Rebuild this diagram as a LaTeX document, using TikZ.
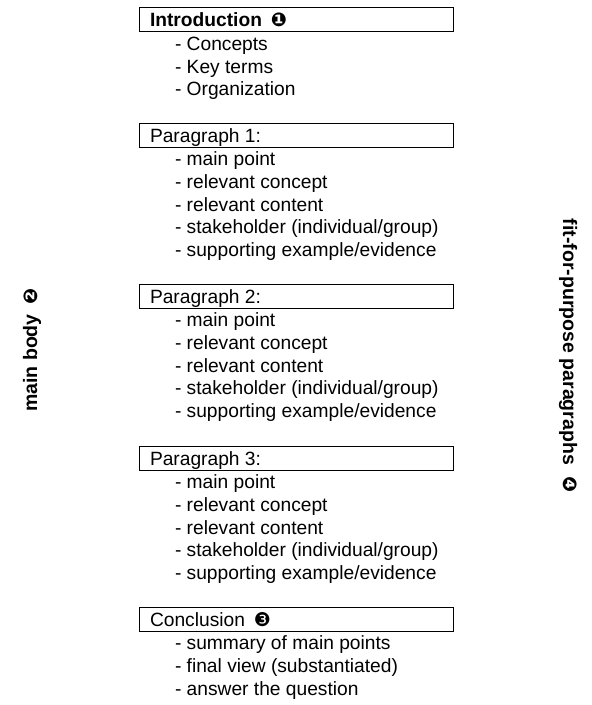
\documentclass[tikz,border=0pt]{standalone}
\usepackage{fontspec}
\setmainfont{Liberation Sans}
\newfontfamily\dejavu{DejaVu Sans}
\newcommand{\circnum}[1]{{\dejavu\fontsize{19}{19}\selectfont #1}}
\begin{document}
\begin{tikzpicture}[x=1pt,y=-1pt,
  every node/.style={inner sep=0pt, outer sep=0pt},
  txt/.style={font=\fontsize{19.2}{22}\selectfont, anchor=base west},
  hdrbox/.style={draw=black, line width=0.9pt},
  side/.style={font=\bfseries\fontsize{19.5}{22}\selectfont}]
\useasboundingbox (0,0) rectangle (592,705);
% Intro
\draw[hdrbox] (139,7) rectangle (453,31);
\node[txt] (intro) at (150,26.5) {\bfseries Introduction\hspace{9pt}\circnum{❶}};
\node[txt] (intro1) at (175,50.5) {- Concepts};
\node[txt] (intro2) at (175,73.2) {- Key terms};
\node[txt] (intro3) at (175,95.9) {- Organization};
% Paragraph 1
\draw[hdrbox] (139,123) rectangle (453,147);
\node[txt] (p1) at (150,142.5) {Paragraph 1:};
\node[txt] (p1a) at (175,165.7) {- main point};
\node[txt] (p1b) at (175,188.4) {- relevant concept};
\node[txt] (p1c) at (175,211.1) {- relevant content};
\node[txt] (p1d) at (175,233.8) {- stakeholder (individual/group)};
\node[txt] (p1e) at (175,256.5) {- supporting example/evidence};
% Paragraph 2
\draw[hdrbox] (139,284) rectangle (453,308);
\node[txt] (p2) at (150,303.5) {Paragraph 2:};
\node[txt] (p2a) at (175,326.7) {- main point};
\node[txt] (p2b) at (175,349.4) {- relevant concept};
\node[txt] (p2c) at (175,372.1) {- relevant content};
\node[txt] (p2d) at (175,394.8) {- stakeholder (individual/group)};
\node[txt] (p2e) at (175,417.5) {- supporting example/evidence};
% Paragraph 3
\draw[hdrbox] (139,446) rectangle (453,470);
\node[txt] (p3) at (150,465.5) {Paragraph 3:};
\node[txt] (p3a) at (175,488.7) {- main point};
\node[txt] (p3b) at (175,511.4) {- relevant concept};
\node[txt] (p3c) at (175,534.1) {- relevant content};
\node[txt] (p3d) at (175,556.8) {- stakeholder (individual/group)};
\node[txt] (p3e) at (175,579.5) {- supporting example/evidence};
% Conclusion
\draw[hdrbox] (139,607) rectangle (453,631);
\node[txt] (con) at (150,626.5) {Conclusion\hspace{9pt}\circnum{❸}};
\node[txt] (con1) at (175,649.7) {- summary of main points};
\node[txt] (con2) at (175,672.4) {- final view (substantiated)};
\node[txt] (con3) at (175,695.1) {- answer the question};
% side labels
\node[side, rotate=90] (mainbody) at (32,350) {main body\hspace{10pt}\circnum{❷}};
\node[side, rotate=-90] (fitp) at (568,356) {fit-for-purpose paragraphs\hspace{12pt}\circnum{❹}};
\end{tikzpicture}
\end{document}
